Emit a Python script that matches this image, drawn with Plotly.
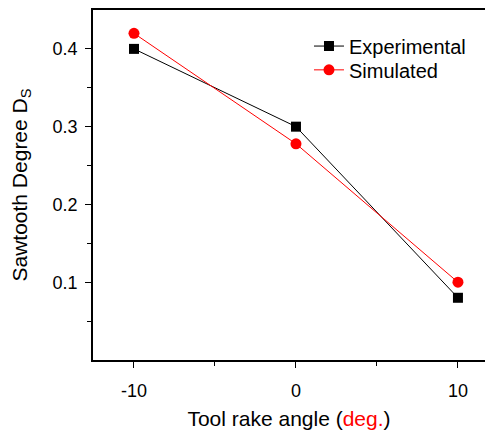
import plotly.graph_objects as go

angles = [-10, 0, 10]
angle_labels = ["-10", "0", "10"]
experimental = [0.40, 0.30, 0.08]
simulated = [0.42, 0.278, 0.10]

fig = go.Figure()
fig.add_trace(go.Scatter(x=angles, y=experimental, mode="lines+markers", name="Experimental",
                         legend="legend",
                         line=dict(color="black", width=1),
                         marker=dict(symbol="square", size=10, color="black")))
fig.add_trace(go.Scatter(x=angles, y=simulated, mode="lines+markers", name="Simulated",
                         legend="legend2",
                         line=dict(color="red", width=1),
                         marker=dict(symbol="circle", size=11, color="red")))

font = "Liberation Sans, Arial, sans-serif"
leg_common = dict(xanchor="left", yanchor="middle", bgcolor="rgba(0,0,0,0)",
                  font=dict(size=20), itemwidth=30)
fig.update_layout(
    width=477, height=422,
    margin=dict(l=85, r=0, t=2, b=70),
    plot_bgcolor="white", paper_bgcolor="white",
    font=dict(family=font, size=18, color="black"),
    showlegend=True,
    legend=dict(x=0.551, y=0.897, **leg_common),
    legend2=dict(x=0.551, y=0.829, **leg_common),
    xaxis=dict(range=[-12.53, 11.67], tickvals=angles, ticktext=angle_labels, ticks="outside", ticklen=6,
               tickcolor="black", showline=True, linecolor="black", linewidth=1.5,
               mirror="ticks", showgrid=False, zeroline=False, automargin=False,
               ticklabelstandoff=8,
               minor=dict(tickvals=[-5, 5], ticks="outside", ticklen=4, tickcolor="black"),
               tickfont=dict(size=18),
               title=dict(text="Tool rake angle (<span style='color:red'>deg.</span>)",
                          font=dict(size=21), standoff=15)),
    yaxis=dict(range=[0, 0.45], tickvals=[0.1, 0.2, 0.3, 0.4], ticktext=["0.1", "0.2", "0.3", "0.4"],
               ticks="outside", ticklen=6, tickcolor="black", showline=True, linecolor="black",
               linewidth=1.5, mirror=False, showgrid=False, zeroline=False, automargin=False,
               ticklabelstandoff=4,
               minor=dict(tickvals=[0.05, 0.15, 0.25, 0.35], ticks="outside", ticklen=4, tickcolor="black"),
               tickfont=dict(size=18),
               title=dict(text="Sawtooth Degree D<sub>S</sub>", font=dict(size=21), standoff=25)),
)
fig.write_html("out.html")
